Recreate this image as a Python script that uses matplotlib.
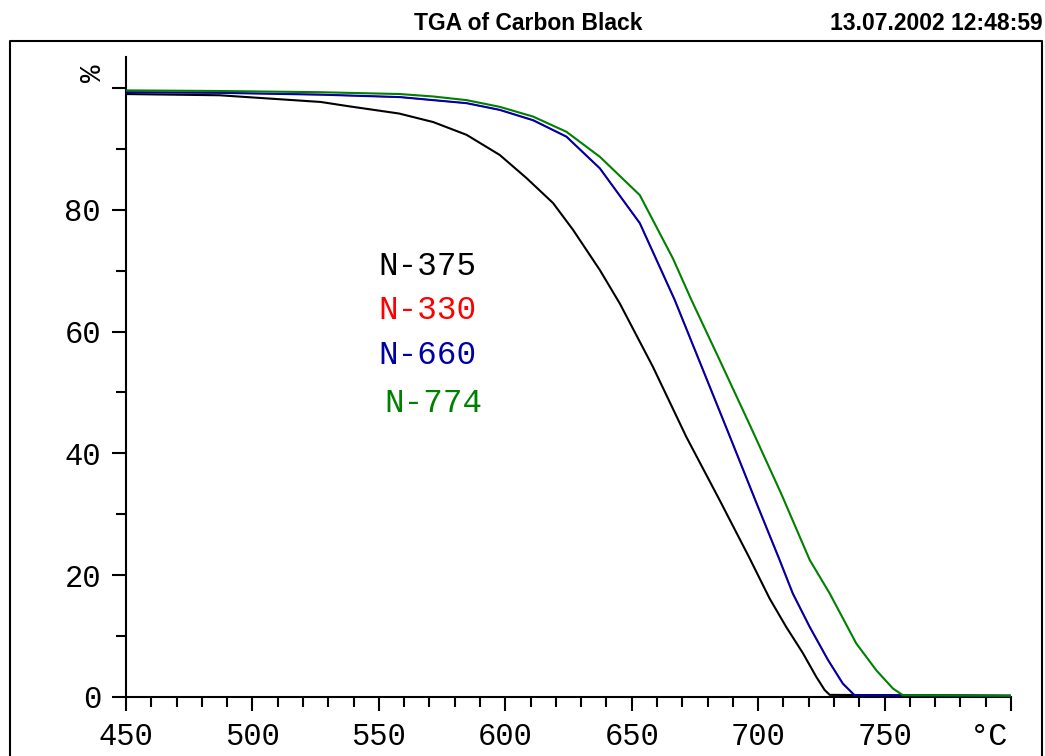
import matplotlib
matplotlib.use('Agg')
import matplotlib.pyplot as plt
from matplotlib.lines import Line2D
from matplotlib.ticker import MultipleLocator, FixedLocator

# ---- data ----
temp_n375 = [450, 487, 527, 538, 558, 571.5, 584.7, 597.8, 608.4, 618.9, 626.8, 637.4, 645.3, 658.4,
             671.6, 684.8, 696.6, 704.5, 711.1, 717.7, 723.0, 726.3, 728.3, 750, 780, 800]
mass_n375 = [99.0, 98.8, 97.7, 97.0, 95.8, 94.4, 92.3, 89.0, 85.2, 81.1, 76.7, 70.1, 64.6, 54.2,
             42.7, 32.3, 22.8, 16.2, 11.5, 7.2, 3.3, 1.15, 0.35, 0.3, 0.25, 0.2]

temp_n660 = [450, 487, 527, 558.3, 571.5, 584.7, 597.8, 611.0, 624.2, 637.4, 653.2, 667.0, 677.7,
             688.3, 698.9, 708.2, 713.7, 720.4, 727.6, 733.5, 738.1, 760, 800]
mass_n660 = [99.3, 99.2, 98.9, 98.5, 98.0, 97.5, 96.4, 94.7, 92.0, 86.8, 77.8, 65.2, 54.2,
             43.3, 32.3, 22.8, 17.0, 11.5, 6.1, 2.2, 0.3, 0.25, 0.2]

# N-330 is not visible in the reference: it lies hidden under the N-660 trace
temp_n330 = temp_n660
mass_n330 = mass_n660

temp_n774 = [450, 487, 527, 558.3, 571.5, 584.7, 597.8, 611.0, 624.2, 637.4, 653.2, 666.3, 673.6,
             684.8, 697.0, 709.1, 720.4, 728.3, 738.8, 746.7, 753.3, 757.2, 780, 800]
mass_n774 = [99.6, 99.5, 99.3, 99.0, 98.6, 98.0, 96.9, 95.3, 92.8, 88.7, 82.4, 72.0, 65.2,
             55.3, 44.4, 33.4, 22.5, 17.0, 8.8, 4.4, 1.4, 0.3, 0.25, 0.2]

series_names = ['N-375', 'N-330', 'N-660', 'N-774']
series_colors = ['#000000', '#ff0000', '#0000a8', '#008000']
x_major = [450, 500, 550, 600, 650, 700, 750, 800]
x_labels = ['450', '500', '550', '600', '650', '700', '750', '']
y_major = [0, 20, 40, 60, 80, 100]
y_labels = ['0', '20', '40', '60', '80', '']
title_text = 'TGA of Carbon Black'
stamp_text = '13.07.2002 12:48:59'

W, H = 1045, 756
fig = plt.figure(figsize=(W / 100, H / 100), dpi=100)
ax = fig.add_axes([126 / W, (H - 697) / H, (1011 - 126) / W, (697 - 57.5) / H])

mono = 'Liberation Mono'

ax.plot(temp_n330, mass_n330, color=series_colors[1], lw=1.0, zorder=2)
ax.plot(temp_n375, mass_n375, color=series_colors[0], lw=1.5, zorder=3)
ax.plot(temp_n660, mass_n660, color=series_colors[2], lw=1.5, zorder=3)
ax.plot(temp_n774, mass_n774, color=series_colors[3], lw=1.5, zorder=3)

ax.set_xlim(450, 800)
ax.set_ylim(0, 105)
for s in ['top', 'right']:
    ax.spines[s].set_visible(False)
for s in ['left', 'bottom']:
    ax.spines[s].set_linewidth(1.5)

ax.xaxis.set_major_locator(FixedLocator(x_major))
ax.set_xticklabels(x_labels)
ax.xaxis.set_minor_locator(MultipleLocator(10))
ax.yaxis.set_major_locator(FixedLocator(y_major))
ax.set_yticklabels(y_labels)
ax.yaxis.set_minor_locator(FixedLocator([10, 30, 50, 70, 90]))

ax.tick_params(which='major', direction='out', length=10, width=1.5, labelsize=22, pad=8)
ax.tick_params(which='minor', direction='out', length=7, width=1.5)
for lab in ax.get_xticklabels() + ax.get_yticklabels():
    lab.set_family(mono)

# legend-like labels
legend_pos = [(550, 70.7), (550, 63.5), (550, 56.1), (552, 48.2)]
for name, col, (lx, ly) in zip(series_names, series_colors, legend_pos):
    ax.text(lx, ly, name, color=col, fontsize=23.5, family=mono, ha='left', va='center')

# unit labels
fig.text(93 / W, 1 - 73 / H, '%', rotation=90, ha='center', va='center', fontsize=21, family=mono)
fig.text(989 / W, 1 - 737 / H, '°C', ha='center', va='center', fontsize=23, family=mono)

# header
fig.text(528 / W, 1 - 23 / H, title_text, ha='center', va='center', fontsize=16.5,
         fontweight='bold', family='Liberation Sans')
fig.text(1043 / W, 1 - 23 / H, stamp_text, ha='right', va='center', fontsize=16.5,
         fontweight='bold', family='Liberation Sans')

# outer frame
fig.add_artist(Line2D([9.5 / W, 9.5 / W, 1042 / W, 1042 / W], [0, 1 - 41 / H, 1 - 41 / H, 0],
                      transform=fig.transFigure, color='black', lw=1.5))

fig.savefig('out.png', dpi=100)
